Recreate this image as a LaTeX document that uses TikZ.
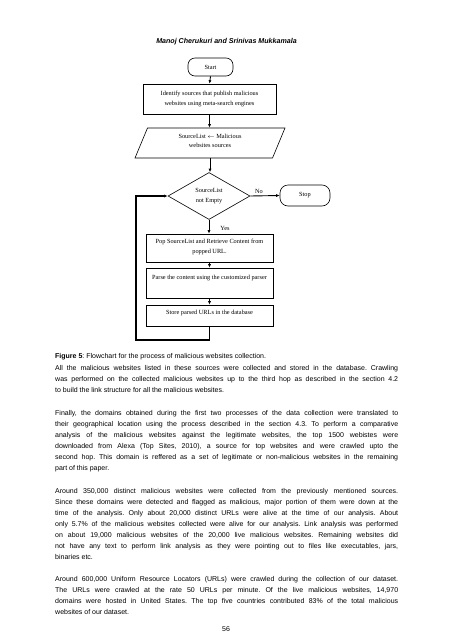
\documentclass[tikz,border=0pt]{standalone}
\usepackage{fontspec}
\usetikzlibrary{shapes.geometric,arrows.meta}
\newfontfamily\arialf{Liberation Sans}
\newfontfamily\tnrf{Liberation Serif}
\begin{document}
\begin{tikzpicture}[x=1pt,y=-1pt,
  fbox/.style={draw,line width=0.6pt,inner sep=0pt,align=center,font=\tnrf\fontsize{6.3}{9.5}\selectfont},
  term/.style={fbox,rounded corners=7pt},
  arr/.style={line width=0.9pt,-{Latex[length=3.5pt,width=3pt]}},
  body/.style={anchor=base west,inner sep=0pt,text width=343pt,align=justify,font=\arialf\fontsize{7.0}{11}\selectfont\frenchspacing},
  lbl/.style={inner sep=0pt,font=\tnrf\fontsize{6.3}{8}\selectfont}
]
\useasboundingbox[fill=white] (0,0) rectangle (452,640);

\node[anchor=base,inner sep=0pt,font=\arialf\bfseries\itshape\fontsize{7.1}{9}\selectfont] (hdr) at (226.5,43) {Manoj Cherukuri and Srinivas Mukkamala};

% flowchart
\node[term,minimum width=45pt,text height=11pt,text depth=7pt,anchor=base] (start) at (210.5,69) {Start};
\node[fbox,minimum width=133pt,text height=21pt,text depth=9pt,anchor=base] (ident) at (209.5,105) {Identify sources that publish malicious\\websites using meta-search engines};
\node[fbox,trapezium,trapezium left angle=53.7,trapezium right angle=126.3,trapezium stretches body,minimum width=150pt,minimum height=30pt,text height=13pt,text depth=4pt] (src) at (210,143) {SourceList $\leftarrow$ Malicious\\websites sources};
\node[fbox,diamond,aspect=1.75,minimum width=82pt,minimum height=47pt,text height=14pt,text depth=2pt] (cond) at (209,196) {SourceList\\not Empty};
\node[term,minimum width=50pt,minimum height=21pt,rounded corners=8pt] (stop) at (305,195.5) {Stop};
\node[fbox,minimum width=127pt,text height=19pt,text depth=9pt,anchor=base] (pop) at (209.5,253) {Pop SourceList and Retrieve Content from\\popped URL.};
\node[fbox,minimum width=127pt,text height=11.5pt,text depth=18.5pt,anchor=base] (parse) at (209.5,279.5) {Parse the content using the customized parser};
\node[fbox,minimum width=127pt,text height=9pt,text depth=12pt,anchor=base] (store) at (209.5,314) {Store parsed URLs in the database};

\node[lbl,anchor=base] (no) at (259,193) {No};
\node[lbl,anchor=base] (yes) at (225,230) {Yes};

\draw[arr] (start.south) -- (ident.north);
\draw[arr] (ident.south) -- (ident.south |- src.north);
\draw[arr] (src.south) -- (src.south |- cond.north);
\draw[arr] (cond.east) -- (stop.west);
\draw[arr] (cond.south) -- (cond.south |- pop.north);
\draw[arr] (pop.south) -- (parse.north);
\draw[arr] (parse.south) -- (store.north);
\coordinate (l1) at (209.5,340);
\coordinate (l2) at (136,340);
\coordinate (l3) at (136,196);
\draw[arr,line width=1.2pt] (store.south) -- (l1) -- (l2) -- (l3) -- (cond.west);

% text
\node[body] (cap) at (55,358) {\textbf{Figure 5}: Flowchart for the process of malicious websites collection.};
\node[body] (p1) at (55,370) {All the malicious websites listed in these sources were collected and stored in the database. Crawling\linebreak was performed on the collected malicious websites up to the third hop as described in the section 4.2\linebreak to build the link structure for all the malicious websites.};
\node[body] (p2) at (55,415) {Finally, the domains obtained during the first two processes of the data collection were translated to\linebreak their geographical location using the process described in the section 4.3. To perform a comparative\linebreak analysis of the malicious websites against the legitimate websites, the top 1500 webistes were\linebreak downloaded from Alexa (Top Sites, 2010), a source for top websites and were crawled upto the\linebreak second hop. This domain is reffered as a set of legitimate or non-malicious websites in the remaining\linebreak part of this paper.};
\node[body] (p3) at (55,493) {Around 350,000 distinct malicious websites were collected from the previously mentioned sources.\linebreak Since these domains were detected and flagged as malicious, major portion of them were down at the\linebreak time of the analysis. Only about 20,000 distinct URLs were alive at the time of our analysis. About\linebreak only 5.7\% of the malicious websites collected were alive for our analysis. Link analysis was performed\linebreak on about 19,000 malicious websites of the 20,000 live malicious websites. Remaining websites did\linebreak not have any text to perform link analysis as they were pointing out to files like executables, jars,\linebreak binaries etc.};
\node[body] (p4) at (55,581) {Around 600,000 Uniform Resource Locators (URLs) were crawled during the collection of our dataset.\linebreak The URLs were crawled at the rate 50 URLs per minute. Of the live malicious websites, 14,970\linebreak domains were hosted in United States. The top five countries contributed 83\% of the total malicious\linebreak websites of our dataset.};
\node[anchor=base,inner sep=0pt,font=\arialf\fontsize{7}{9}\selectfont] (pg) at (226,631) {56};
\end{tikzpicture}
\end{document}
